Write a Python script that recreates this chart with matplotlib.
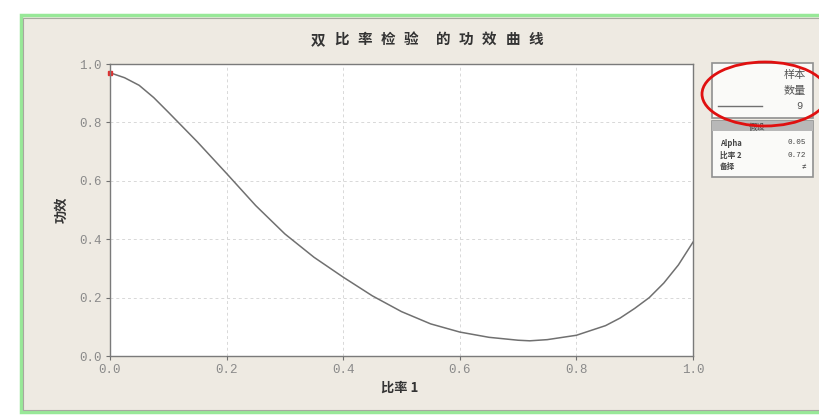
import matplotlib
matplotlib.use("Agg")
import matplotlib.pyplot as plt
from matplotlib.patches import Rectangle, Ellipse
from matplotlib.lines import Line2D

plt.rcParams['font.family'] = ['Noto Sans CJK SC', 'DejaVu Sans']

# ---- data ----
ratio1 = [0.0, 0.025, 0.05, 0.075, 0.10, 0.15, 0.20, 0.25, 0.30, 0.35, 0.40, 0.45,
          0.50, 0.55, 0.60, 0.65, 0.70, 0.72, 0.75, 0.80, 0.85, 0.875, 0.90,
          0.925, 0.95, 0.975, 1.0]
power = [0.97, 0.953, 0.927, 0.885, 0.835, 0.733, 0.625, 0.515, 0.418, 0.338,
         0.270, 0.206, 0.152, 0.110, 0.082, 0.064, 0.054, 0.052, 0.056, 0.071,
         0.104, 0.130, 0.163, 0.200, 0.250, 0.312, 0.390]
marker_x = [0.0]
marker_y = [0.97]
xticks = [0.0, 0.2, 0.4, 0.6, 0.8, 1.0]
yticks = [0.0, 0.2, 0.4, 0.6, 0.8, 1.0]
title = "双比率检验 的功效曲线"
xlabel = "比率 1"
ylabel = "功效"
legend_header = ["样本", "数量"]
sample_size = "9"
assume_header = "假设"
assume_rows = [("Alpha", "0.05"), ("比率 2", "0.72"), ("备择", "≠")]

W, H = 820, 419
fig = plt.figure(figsize=(W / 100, H / 100), dpi=100, facecolor="white")

def fx(x):
    return x / W

def fy(y):
    return 1 - y / H

# beige panel with green frame
fig.patches.append(Rectangle((fx(21), fy(412)), fx(830) - fx(21), fy(15) - fy(412),
                             transform=fig.transFigure, facecolor="#EEEAE2",
                             edgecolor="#98E898", linewidth=2.5, zorder=-2))
fig.patches.append(Rectangle((fx(23), fy(410)), fx(830) - fx(23), fy(18) - fy(410),
                             transform=fig.transFigure, facecolor="none",
                             edgecolor="#A8A8A0", linewidth=0.8, zorder=-1))

ax = fig.add_axes([fx(110), fy(356), fx(693) - fx(110), fy(64) - fy(356)], zorder=1)
ax.set_facecolor("white")
ax.plot(ratio1, power, color="#707070", lw=1.1)
ax.plot(marker_x, marker_y, 's', color="#E03030", ms=3.5, clip_on=False)
ax.set_xlim(0, 1)
ax.set_ylim(0, 1)
ax.set_xticks(xticks)
ax.set_yticks(yticks)
ax.set_xticklabels([f"{v:.1f}" for v in xticks])
ax.set_yticklabels([f"{v:.1f}" for v in yticks])
for lab in ax.get_xticklabels() + ax.get_yticklabels():
    lab.set_family("Liberation Mono")
    lab.set_fontsize(9)
    lab.set_color("#8A8A8A")
ax.tick_params(direction="out", length=3, color="#707070", width=0.8, pad=3)
ax.grid(True, color="#D8D8D8", linestyle=(0, (3, 3)), lw=0.7)
for s in ax.spines.values():
    s.set_color("#7A7A7A")
    s.set_linewidth(1.0)

# title with wide letter spacing
px = 318.0
for ch in title:
    if ch == " ":
        px += 9
        continue
    fig.text(fx(px), fy(39), ch, ha="center", va="center", fontsize=10.5,
             fontweight="bold", color="#333333", zorder=4)
    px += 23.2

fig.text(fx(400), fy(388), xlabel, ha="center", va="center", fontsize=9.5,
         fontweight="bold", color="#333333")
fig.text(fx(62), fy(210), ylabel, ha="center", va="center", fontsize=9.5,
         fontweight="bold", color="#333333", rotation=90)

# legend box 1
fig.patches.append(Rectangle((fx(712), fy(118)), fx(813) - fx(712), fy(63) - fy(118),
                             transform=fig.transFigure, facecolor="#FAFAF8",
                             edgecolor="#909090", linewidth=1.2, zorder=3))
fig.text(fx(806), fy(75), legend_header[0], ha="right", va="center", fontsize=8,
         color="#555555", zorder=4)
fig.text(fx(806), fy(91), legend_header[1], ha="right", va="center", fontsize=8,
         color="#555555", zorder=4)
fig.lines.append(Line2D([fx(718), fx(762)], [fy(106), fy(106)], transform=fig.transFigure,
                        color="#707070", lw=1.0, zorder=4))
fig.text(fx(803), fy(106), sample_size, ha="right", va="center", fontsize=7.5,
         color="#555555", family="Liberation Mono", zorder=4)

# legend box 2
fig.patches.append(Rectangle((fx(712), fy(177)), fx(813) - fx(712), fy(121) - fy(177),
                             transform=fig.transFigure, facecolor="#FAFAF8",
                             edgecolor="#909090", linewidth=1.2, zorder=3))
fig.patches.append(Rectangle((fx(712), fy(131)), fx(813) - fx(712), fy(121) - fy(131),
                             transform=fig.transFigure, facecolor="#B8B8B8",
                             edgecolor="none", zorder=3))
fig.text(fx(757), fy(127), assume_header, ha="center", va="center", fontsize=6,
         color="#444444", zorder=4)
for i, (k, v) in enumerate(assume_rows):
    yy = 143 + i * 12
    fig.text(fx(720), fy(yy), k, ha="left", va="center", fontsize=5.5,
             color="#444444", fontweight="bold", zorder=4)
    fig.text(fx(806), fy(yy), v, ha="right", va="center", fontsize=5.5,
             color="#444444", family=["Liberation Mono", "DejaVu Sans"], zorder=4)

# red annotation ellipse
fig.patches.append(Ellipse((fx(765), fy(94)), fx(126), 64 / H,
                           transform=fig.transFigure, facecolor="none",
                           edgecolor="#E01010", linewidth=2.0, zorder=5))

fig.savefig("out.png", dpi=100, facecolor="white")
